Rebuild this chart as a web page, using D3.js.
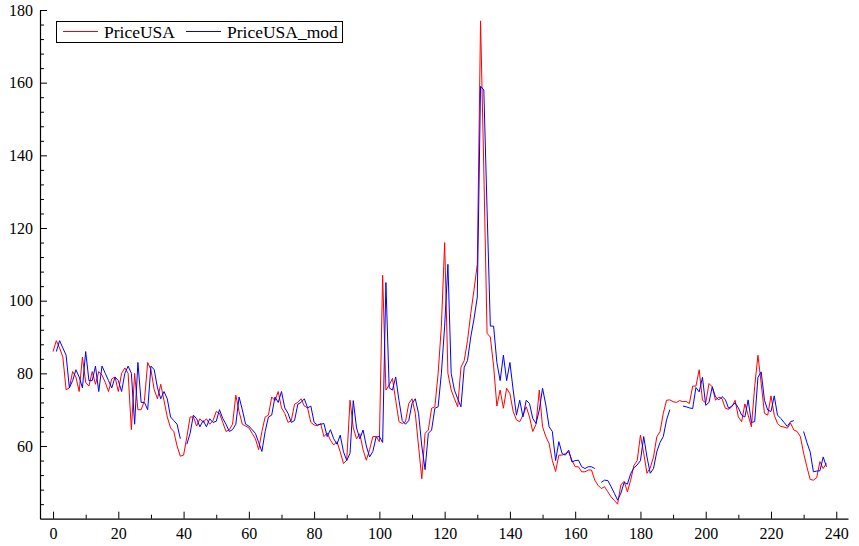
<!DOCTYPE html>
<html>
<head>
<meta charset="utf-8">
<script src="https://cdn.jsdelivr.net/npm/d3@7"></script>
<style>
    body { margin: 0; background: #fff; }
    svg { display: block; }
    text { font-family: "Liberation Serif", "Times New Roman", serif; fill: #000; }
</style>
</head>
<body>
<div id="chart"></div>
<script>
// values, one per index 0..237
var priceUSA = [
    86, 89, 87, 84.5, 75.5, 76, 80.5, 79, 75, 84.5,
    77.5, 76.5, 80.5, 77, 80.5, 79.5, 77.5, 75, 78.5, 79,
    75, 80, 81.5, 80, 64.5, 80, 70, 70, 72.5, 83,
    81, 75.5, 73, 77, 72.5, 68, 65, 64, 60, 57.2,
    57.5, 62.5, 68, 68, 65.5, 67.5, 66.5, 67.5, 66, 67,
    69.5, 69, 66.5, 64, 64.5, 66, 74, 69.5, 66, 65.5,
    65, 63.5, 62, 59, 64, 68, 68.5, 73.5, 72.5, 75,
    70.5, 69, 66.5, 67, 71.5, 72, 73, 71, 70.5, 66.5,
    65.8, 65.6, 66.2, 62.6, 63.6, 61.6, 60.3, 61.2, 58.4, 55.2,
    56.1, 72.6, 65, 62, 63.4, 59, 56.1, 59, 62.6, 62.6,
    61.2, 107, 75.4, 76.8, 78.6, 72.6, 66.7, 66.2, 66.7, 71.7,
    73, 69, 60, 51, 63.5, 64.4, 70.4, 70.8, 80, 93,
    116, 80, 75.4, 73, 70.8, 81.7, 83.5, 89, 96.5, 103,
    110, 177, 136, 91, 90, 82, 71, 75.4, 70.4, 75.9,
    74.4, 69.5, 67.2, 66.7, 68.5, 70.8, 68, 64, 66, 75.4,
    65.3, 62.6, 60.7, 56, 53, 57.5, 57.5, 57.9, 58.4, 56.1,
    54.3, 54.3, 52.9, 52.9, 53.4, 53.4, 50.6, 49.2, 48.3, 48.8,
    47.4, 46, 45, 44, 49.3, 50.3, 47.4, 50.6, 54.7, 56,
    63, 58, 52.5, 54, 57, 62.5, 64, 69, 72.6, 72.7,
    72.2, 72, 72.5, 72.2, 72.3, 71.7, 76.5, 76.5, 81, 72.6,
    71.9, 77.2, 76.3, 72.6, 73.5, 73, 70.4, 70.1, 70.8, 72.6,
    68, 66.7, 71.6, 68.5, 65.3, 76.3, 85, 77.2, 69, 68.5,
    73.8, 68.5, 66.2, 65.4, 65.2, 64.9, 66.3, 64.4, 64, 62.6,
    58, 54.3, 50.8, 50.6, 51.3, 55.7, 53.8, 55.2
];

// null = no point (the blue line is broken there)
var priceUSAMod = [
    null, 86, 89, 87, 85, 76, 78, 81, 79, 76,
    86, 78, 78, 82, 75, 82, 80, 78, 76, 79,
    78, 75, 80, 82, 80, 66, 83, 72, 72, 70,
    82, 81, 76, 73, 75, 73, 68, 67, 66, 62,
    null, 60.5, 63.5, 68.5, 67.5, 65.3, 67, 65.3, 67.5, 66.5,
    66.8, 70, 67.6, 66, 64, 64.5, 66, 73.5, 70, 66,
    65.5, 64.5, 63.5, 61, 58.5, 64, 68, 68.5, 73.5, 72,
    75, 70.5, 69, 66.5, 67, 71.5, 72, 73, 70.5, 71,
    66.5, 65.8, 66, 66.2, 62.6, 64.5, 62, 60.5, 63, 58.4,
    56, 58, 72.5, 65, 62, 64.4, 60, 57, 58.5, 62.5,
    62.6, 61, 105, 76, 75.4, 79, 72.6, 67, 66, 67,
    71.7, 73, 69, 60, 53.5, 63.5, 64.4, 70.4, 70.8, 80,
    93, 110, 80, 75.4, 73, 70.8, 81.7, 83.5, 90, 95,
    101, 159, 158, 125, 93, 93, 83, 78, 85, 78,
    83, 75.4, 68.5, 72.6, 68, 72.6, 71.7, 67.6, 66.2, 69.9,
    75.9, 71.3, 65.3, 64, 56, 61.2, 57.9, 57.5, 58.9, 55.6,
    56, 56.1, 54.3, 53.8, 54.3, 54.3, 53.8, null, 50, 50.6,
    50.5, 48.8, 47, 45.1, 47, 50, 49.5, 52.4, 54, 54.8,
    56, 62.6, 57, 52.5, 53.8, 58.4, 61, 62.6, 67.2, 70,
    null, null, null, 71, 70.8, 70.5, 70.3, 76.1, 74.9, 78.9,
    71.2, 72, 76.3, 73.5, 72.7, 73.6, 72.8, 70.4, 71, 71.9,
    70.5, 68.5, 68, 72.7, 66.5, 66.7, 78.9, 80.4, 72.6, 69.9,
    69.5, 73.8, 68.5, 67.6, 66.5, 65.4, 66.7, 67, null, null,
    64, 61, 58.4, 52.9, 53.1, 53.2, 57, 54.3
];

var xTickValues = [0, 20, 40, 60, 80, 100, 120, 140, 160, 180, 200, 220, 240];
var yTickValues = [60, 80, 100, 120, 140, 160, 180];
var seriesNames = ['PriceUSA', 'PriceUSA_mod'];
var seriesColors = ['#ff0000', '#0000ff'];

var width = 859, height = 546;

var svg = d3.select('#chart')
    .append('svg')
    .attr('width', width)
    .attr('height', height);

var x = d3.scaleLinear().domain([-4, 243.6]).range([40, 848]);
var y = d3.scaleLinear().domain([40, 180]).range([518.7, 10]);

// minor ticks first, then the major axes over them
var xMinor = d3.range(10, 241, 20);
var yMinor = d3.range(40, 181, 4).filter(function(v) { return v % 20 !== 0; });

svg.append('g')
    .attr('transform', 'translate(0,' + y(40) + ')')
    .call(d3.axisBottom(x).tickValues(xMinor).tickSizeInner(-4).tickSizeOuter(0).tickFormat(''))
    .call(function(g) { g.select('.domain').remove(); });

svg.append('g')
    .attr('transform', 'translate(' + x(-4) + ',0)')
    .call(d3.axisLeft(y).tickValues(yMinor).tickSizeInner(-4).tickSizeOuter(0).tickFormat(''))
    .call(function(g) { g.select('.domain').remove(); });

var xAxis = svg.append('g')
    .attr('transform', 'translate(0,' + y(40) + ')')
    .call(d3.axisBottom(x).tickValues(xTickValues).tickSizeInner(-7).tickSizeOuter(0).tickPadding(9));
xAxis.selectAll('text').style('font-size', '16px');

var yAxis = svg.append('g')
    .attr('transform', 'translate(' + x(-4) + ',0)')
    .call(d3.axisLeft(y).tickValues(yTickValues).tickSizeInner(-7).tickSizeOuter(0).tickPadding(7));
yAxis.selectAll('text').style('font-size', '16px');

svg.selectAll('.domain').attr('stroke', '#000').attr('stroke-width', 1.2);
svg.selectAll('.tick line').attr('stroke', '#000');

// lines
var line = d3.line()
    .defined(function(d) { return d !== null; })
    .x(function(d, i) { return x(i); })
    .y(function(d) { return y(d); });

[priceUSA, priceUSAMod].forEach(function(values, k) {
    svg.append('path')
        .datum(values)
        .attr('fill', 'none')
        .attr('stroke', seriesColors[k])
        .attr('stroke-width', 1)
        .attr('d', line);
});

// legend
var legend = svg.append('g');
legend.append('rect')
    .attr('x', 56.5).attr('y', 21.5)
    .attr('width', 286).attr('height', 21)
    .attr('fill', '#fff').attr('stroke', '#000').attr('stroke-width', 1);

var legendX = [63, 186];
seriesNames.forEach(function(name, k) {
    legend.append('line')
        .attr('x1', legendX[k]).attr('x2', legendX[k] + 35)
        .attr('y1', 31.5).attr('y2', 31.5)
        .attr('stroke', seriesColors[k]).attr('stroke-width', 1);
    legend.append('text')
        .attr('x', legendX[k] + 41).attr('y', 37.5)
        .style('font-size', '17.5px')
        .text(name);
});
</script>
</body>
</html>
